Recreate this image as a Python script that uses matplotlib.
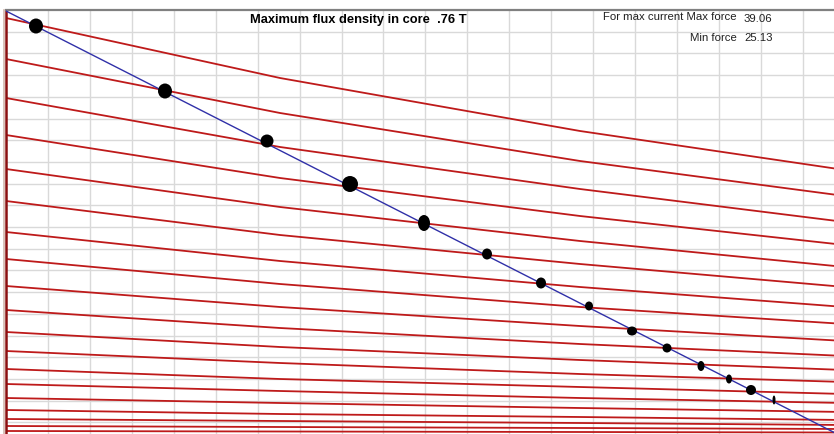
import numpy as np
import matplotlib
matplotlib.use("Agg")
import matplotlib.pyplot as plt
from matplotlib.patches import Ellipse

# ---- data (position along gap in px-units, force in px-units) ----
curve_x = [0, 274, 574, 839]
curves = [
    [417, 357, 304, 265],
    [376, 322, 274, 239],
    [337, 288, 246, 213],
    [300, 257, 219, 190],
    [266, 228, 194, 168],
    [234, 200, 171, 148],
    [203, 174, 148, 128],
    [176, 151, 128, 111],
    [149, 128, 109, 94],
    [125, 107, 91, 79],
    [103, 88, 75, 65],
    [84, 72, 61, 53],
    [66, 56, 48, 41],
    [51, 44, 37, 32],
    [37, 32, 27, 23],
    [25, 21, 18, 15],
    [16, 14, 12, 10],
    [9, 8, 7, 6],
    [4, 3.5, 3, 2.5],
]
load_x = [0, 839]
load_y = [424, -3]

dot_x = [30, 159, 261, 344, 418, 481, 535, 583, 626, 661, 695, 723, 745, 768]
dot_y = [409, 344, 294, 251, 212, 181, 152, 129, 104, 87, 69, 56, 45, 35]
dot_w = [14, 14, 13, 16, 12, 10, 10, 8, 10, 9, 7, 6, 10, 3]
dot_h = [15, 15, 13, 16, 16, 11, 11, 9, 9, 9, 10, 9, 10, 9]

title = "Maximum flux density in core  .76 T"
max_label = "For max current Max force"
min_label = "Min force"
max_force = "39.06"
min_force = "25.13"

W, H = 834, 434
fig = plt.figure(figsize=(W / 100, H / 100), dpi=100)
fig.patch.set_facecolor("white")
# axes spans px x 6..845, y 10..444
ax = fig.add_axes([6 / W, -10 / H, 839 / W, 434 / H])
ax.set_xlim(0, 839)
ax.set_ylim(-9, 425)

ax.set_xticks(np.arange(1, 20) * 41.94)
ax.set_yticks(425 - np.arange(1, 20) * 21.7)
ax.grid(True, color="#D9D9D9", lw=1.0)
ax.tick_params(length=0, labelbottom=False, labelleft=False)
for s in ["right", "bottom"]:
    ax.spines[s].set_visible(False)
ax.spines["top"].set_color("#808080")
ax.spines["top"].set_linewidth(1.6)
ax.spines["left"].set_color("#8B1010")
ax.spines["left"].set_linewidth(1.8)
ax.set_axisbelow(True)

fig.add_artist(plt.Line2D([4.2 / W, 4.2 / W], [0, 424 / H], color="#D2B8AE", lw=1.2))

for c in curves:
    ax.plot(curve_x, c, color="#BE1A1A", lw=1.3, solid_capstyle="butt", zorder=2)

ax.plot(load_x, load_y, color="#3030A8", lw=1.0, zorder=3)

for x, y, w, h in zip(dot_x, dot_y, dot_w, dot_h):
    ax.add_patch(Ellipse((x, y), w, h, facecolor="black", edgecolor="none", zorder=4))

ax.text(352, 415, title, ha="center", va="center", fontsize=9.3,
        fontweight="bold", family="Liberation Sans", color="black")
ax.text(731, 418, max_label, ha="right", va="center", fontsize=8.2,
        family="Liberation Sans", color="#202020")
ax.text(738, 416, max_force, ha="left", va="center", fontsize=8.2,
        family="Liberation Sans", color="#202020")
ax.text(731, 397, min_label, ha="right", va="center", fontsize=8.2,
        family="Liberation Sans", color="#202020")
ax.text(738, 397, min_force, ha="left", va="center", fontsize=8.2,
        family="Liberation Sans", color="#202020")

fig.savefig("out.png", dpi=100)
